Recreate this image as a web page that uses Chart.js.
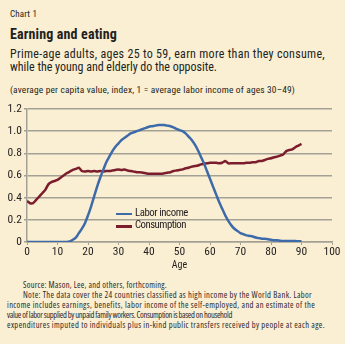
<!DOCTYPE html>
<html>
<head>
<meta charset="utf-8">
<script src="https://cdn.jsdelivr.net/npm/chart.js@4.4.1/dist/chart.umd.min.js"></script>
<style>
  html, body { margin: 0; padding: 0; }
  body {
    width: 345px; height: 344px; position: relative; overflow: hidden;
    background: #faeed3;
    font-family: "Roboto Condensed", "Open Sans", sans-serif;
    color: #231f20;
  }
  .t { position: absolute; white-space: nowrap; }
  #kicker { left: 10px; top: 9px; font-size: 9px; line-height: 10.8px; }
  #title { left: 10px; top: 26px; font-size: 14px; line-height: 16.8px; font-weight: bold; }
  .sub { left: 10px; font-size: 12px; line-height: 13.3px; }
  #sub1 { top: 47.5px; }
  #sub2 { top: 60.8px; }
  #unit { left: 10px; top: 84px; font-size: 9.4px; line-height: 11.3px; }
  #wrap { position: absolute; left: 0; top: 98px; width: 345px; height: 180px; }
  .lg { font-size: 10.8px; line-height: 12.6px; }
  .sw { position: absolute; left: 116px; width: 16px; height: 2.5px; }
  .note { font-family: "Open Sans", sans-serif; font-stretch: condensed; font-size: 8.5px; line-height: 10px; color: #2b2728; }
</style>
</head>
<body>
<div class="t" id="kicker" data-w="27">Chart 1</div>
<div class="t" id="title" data-w="107">Earning and eating</div>
<div class="t sub" id="sub1" data-w="315">Prime-age adults, ages 25 to 59, earn more than they consume,</div>
<div class="t sub" id="sub2" data-w="207">while the young and elderly do the opposite.</div>
<div class="t" id="unit" data-w="285">(average per capita value, index, 1 = average labor income of ages 30–49)</div>
<div id="wrap"><canvas id="chart"></canvas></div>
<div id="legend"></div>
<div class="t note" style="left:23px;top:280.3px" data-w="144">Source: Mason, Lee, and others, forthcoming.</div>
<div class="t note" style="left:23px;top:290.3px" data-w="289">Note: The data cover the 24 countries classified as high income by the World Bank. Labor</div>
<div class="t note" style="left:7px;top:300.3px" data-w="308">income includes earnings, benefits, labor income of the self-employed, and an estimate of the</div>
<div class="t note" style="left:7px;top:310.3px" data-w="225">value of labor supplied by unpaid family workers. Consumption is based on household</div>
<div class="t note" style="left:7px;top:320.3px" data-w="318">expenditures imputed to individuals plus in-kind public transfers received by people at each age.</div>

<script>
// ages 0..90
const ages = [];
for (let a = 0; a <= 90; a++) ages.push(a);

const laborIncome = [
  0, 0, 0, 0, 0, 0, 0, 0, 0, 0,
  0, 0, 0, 0, 0.005, 0.02, 0.04, 0.08, 0.12, 0.17,
  0.24, 0.32, 0.41, 0.50, 0.58, 0.65, 0.72, 0.77, 0.82, 0.86,
  0.89, 0.92, 0.94, 0.96, 0.98, 0.99, 1.00, 1.01, 1.02, 1.03,
  1.04, 1.045, 1.05, 1.055, 1.055, 1.055, 1.05, 1.045, 1.035, 1.02,
  1.01, 1.00, 0.98, 0.95, 0.92, 0.88, 0.83, 0.77, 0.71, 0.64,
  0.57, 0.50, 0.43, 0.36, 0.30, 0.24, 0.19, 0.15, 0.12, 0.10,
  0.08, 0.07, 0.06, 0.055, 0.05, 0.04, 0.035, 0.03, 0.03, 0.025,
  0.02, 0.015, 0.015, 0.012, 0.01, 0.01, 0.01, 0.008, 0.008, 0.007,
  0.007
];

const consumption = [
  0.37, 0.35, 0.35, 0.38, 0.41, 0.44, 0.47, 0.52, 0.54, 0.55,
  0.56, 0.58, 0.60, 0.62, 0.635, 0.65, 0.66, 0.67, 0.64, 0.635,
  0.64, 0.635, 0.64, 0.635, 0.64, 0.635, 0.64, 0.64, 0.645, 0.65,
  0.655, 0.65, 0.655, 0.645, 0.64, 0.635, 0.63, 0.63, 0.625, 0.62,
  0.615, 0.615, 0.615, 0.615, 0.615, 0.62, 0.625, 0.63, 0.64, 0.645,
  0.65, 0.655, 0.665, 0.67, 0.68, 0.685, 0.69, 0.70, 0.705, 0.71,
  0.715, 0.715, 0.715, 0.71, 0.715, 0.73, 0.71, 0.71, 0.71, 0.71,
  0.71, 0.71, 0.715, 0.715, 0.72, 0.72, 0.73, 0.73, 0.74, 0.75,
  0.755, 0.765, 0.77, 0.78, 0.79, 0.82, 0.83, 0.835, 0.855, 0.87,
  0.885
];

const seriesNames = ['Labor income', 'Consumption'];
const seriesColors = ['#3d6aa9', '#7b1d2c'];
const xTicks = [0, 10, 20, 30, 40, 50, 60, 70, 80, 90, 100];
const yTicks = [0, 0.2, 0.4, 0.6, 0.8, 1.0, 1.2];

const fontFamily = '"Roboto Condensed", "Open Sans", sans-serif';
const gridColor = '#a3a195';
const textColor = '#231f20';

function toPoints(vals) {
  return ages.map((a, i) => ({ x: a, y: vals[i] }));
}

const chart = new Chart(document.getElementById('chart'), {
  type: 'line',
  data: {
    datasets: [
      { label: seriesNames[0], data: toPoints(laborIncome), borderColor: seriesColors[0], borderWidth: 2.5, pointRadius: 0, tension: 0.3 },
      { label: seriesNames[1], data: toPoints(consumption), borderColor: seriesColors[1], borderWidth: 2.5, pointRadius: 0, tension: 0.2 }
    ]
  },
  options: {
    responsive: true,
    maintainAspectRatio: false,
    animation: false,
    layout: { padding: { top: 11, right: 13, left: 0, bottom: 0 } },
    plugins: { legend: { display: false }, tooltip: { enabled: false } },
    scales: {
      x: {
        type: 'linear', min: 0, max: 100,
        afterFit: s => { s.height = 36; },
        afterBuildTicks: s => { s.ticks = xTicks.map(v => ({ value: v })); },
        grid: { drawOnChartArea: false, drawTicks: true, tickLength: 3, color: gridColor, lineWidth: 1 },
        border: { color: gridColor, width: 1.5 },
        ticks: { color: textColor, font: { family: fontFamily, size: 11.5 }, padding: 0, maxRotation: 0, callback: v => String(v) },
        title: { display: true, text: 'Age', color: textColor, font: { family: fontFamily, size: 10 }, padding: { top: 0, bottom: 7 } }
      },
      y: {
        min: 0, max: 1.2,
        afterFit: s => { s.width = 27; },
        afterBuildTicks: s => { s.ticks = yTicks.map(v => ({ value: v })); },
        grid: { color: gridColor, lineWidth: 1.5, drawTicks: true, tickLength: 3 },
        border: { color: gridColor, width: 1.5 },
        ticks: { color: textColor, font: { family: fontFamily, size: 11.5 }, padding: 2, callback: v => v === 0 ? '0' : v.toFixed(1) }
      }
    }
  }
});

// HTML legend from dataset labels
const legendTops = [206.7, 219.3];
const legendWidths = [53, 51];
document.getElementById('legend').innerHTML = chart.data.datasets.map((ds, i) =>
  '<div class="sw" style="top:' + (legendTops[i] + 6) + 'px;background:' + ds.borderColor + '"></div>' +
  '<div class="t lg" style="left:135px;top:' + legendTops[i] + 'px" data-w="' + legendWidths[i] + '">' + ds.label + '</div>'
).join('');

// fit each text line to the width it has in the original by letter spacing
document.querySelectorAll('[data-w]').forEach(el => {
  const w = el.getBoundingClientRect().width;
  const n = el.textContent.length;
  el.style.letterSpacing = ((parseFloat(el.dataset.w) - w) / n) + 'px';
});
</script>
</body>
</html>
